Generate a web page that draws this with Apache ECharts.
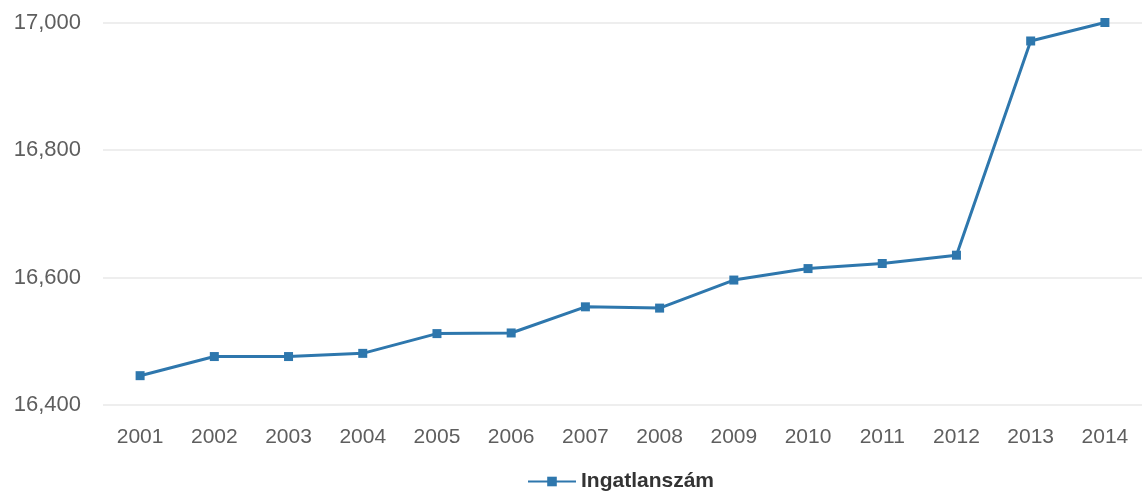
<!DOCTYPE html>
<html>
<head>
<meta charset="utf-8">
<script src="https://cdn.jsdelivr.net/npm/echarts@6/dist/echarts.min.js"></script>
<style>html,body{margin:0;padding:0;background:#fff}#c{width:1142px;height:498px}</style>
</head>
<body>
<div id="c"></div>
<script>
var categories = ['2001','2002','2003','2004','2005','2006','2007','2008','2009','2010','2011','2012','2013','2014'];
var seriesName = 'Ingatlanszám';
var values = [16446, 16476, 16476, 16481, 16512, 16513, 16554, 16552, 16596, 16614, 16622, 16635, 16971, 17000];
var yTicks = { min: 16400, max: 17000, interval: 200 };

var chart = echarts.init(document.getElementById('c'));
chart.setOption({
  animation: false,
  backgroundColor: '#ffffff',
  grid: { left: 103, top: 22.5, width: 1043, height: 382.5, containLabel: false },
  legend: {
    top: 471, left: 527, padding: 0,
    itemWidth: 48, itemHeight: 12, itemGap: 10,
    textStyle: { fontFamily: 'Liberation Sans', fontSize: 21, fontWeight: 'bold', color: '#333' },
    data: [seriesName]
  },
  xAxis: {
    type: 'category', data: categories, boundaryGap: true,
    axisLine: { show: false }, axisTick: { show: false },
    axisLabel: { color: '#5e5e5e', fontFamily: 'Liberation Sans', fontSize: 21, margin: 22 }
  },
  yAxis: {
    type: 'value', min: yTicks.min, max: yTicks.max, interval: yTicks.interval,
    axisLine: { show: false }, axisTick: { show: false },
    splitLine: { lineStyle: { color: '#e8e8e8', width: 1.5 } },
    axisLabel: {
      color: '#5e5e5e', fontFamily: 'Liberation Sans', fontSize: 22, margin: 22,
      formatter: function (v) { return v.toLocaleString('en-US'); }
    }
  },
  series: [{
    name: seriesName, type: 'line', data: values,
    symbol: 'rect', symbolSize: 9,
    lineStyle: { color: '#2e77ad', width: 3 },
    itemStyle: { color: '#2e77ad' }
  }]
});
</script>
</body>
</html>
